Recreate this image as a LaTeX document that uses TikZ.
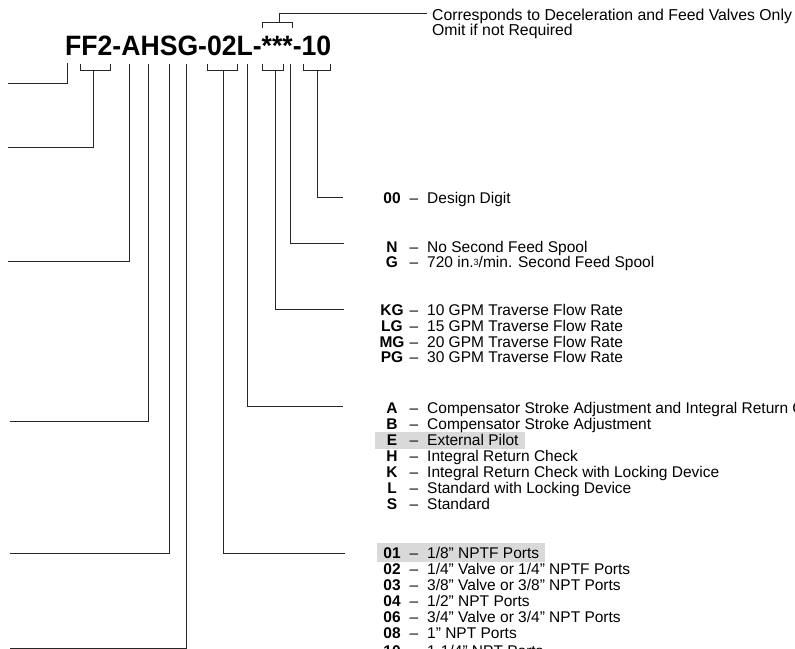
\documentclass[tikz,border=0pt]{standalone}
\usepackage{fontspec}
\setmainfont{Liberation Sans}
\newcommand\legrow[4]{%
  \node[codetxt] (c#1) at (392,#2+5.5) {#3};
  \node[dashtxt] (d#1) at (414,#2+5.5) {\textendash};
  \node[desctxt] (t#1) at (427,#2+5.5) {#4};}
\tikzset{
  lead/.style={line width=1pt, draw=black!85},
  codetxt/.style={font=\fontsize{15.5}{16}\selectfont\bfseries, anchor=base, inner sep=0},
  dashtxt/.style={font=\fontsize{15.5}{16}\selectfont, anchor=base, inner sep=0},
  desctxt/.style={font=\fontsize{15.5}{16}\selectfont, anchor=base west, inner sep=0},
  notetxt/.style={font=\fontsize{15.8}{16}\selectfont, anchor=base west, inner sep=0},
  hl/.style={fill=black!15, draw=none},
}
\begin{document}
\begin{tikzpicture}[x=1pt,y=-1pt]
\useasboundingbox (0,0) rectangle (795,648);
% highlights
\fill[hl] (375,432) rectangle (525,449);
\fill[hl] (377,543) rectangle (545,562);
% title
\node[anchor=base west, inner sep=0, font=\fontsize{28}{28}\selectfont\bfseries] (title) at (65,55)
  {\scalebox{0.95}[1]{FF2-AHSG-02L-***-10}};
% top note
\node[notetxt] (note1) at (432,20) {Corresponds to Deceleration and Feed Valves Only};
\node[notetxt] (note2) at (432,35) {Omit if not Required};
% coordinates
\coordinate (f1) at (67,63);   \coordinate (f1e) at (8,83);
\coordinate (f2) at (93,70);   \coordinate (f2e) at (8,147);
\coordinate (a1) at (129,64);  \coordinate (a1e) at (8,261);
\coordinate (h1) at (148,64);  \coordinate (h1e) at (10,421);
\coordinate (s1) at (169,64);  \coordinate (s1e) at (10,553);
\coordinate (g1) at (186,64);  \coordinate (g1e) at (10,648);
\coordinate (p1) at (223,70);  \coordinate (p1e) at (345,553);
\coordinate (l1) at (247,64);  \coordinate (l1e) at (343,406);
\coordinate (st) at (275,70);  \coordinate (ste) at (344,309);
\coordinate (sp) at (290,64);  \coordinate (spe) at (344,243);
\coordinate (dd) at (317,70);  \coordinate (dde) at (343,197);
\coordinate (tb) at (279,22);  \coordinate (tbe) at (427,13);
% brackets
\draw[lead] (80,64) -- (80,70) -- (110,70) -- (110,64);
\draw[lead] (207,64) -- (207,70) -- (237,70) -- (237,64);
\draw[lead] (262,64) -- (262,70) -- (283,70) -- (283,64);
\draw[lead] (303,64) -- (303,70) -- (330,70) -- (330,64);
\draw[lead] (262,28) -- (262,22) -- (292,22) -- (292,28);
% leaders
\draw[lead] (f1) |- (f1e);
\draw[lead] (f2) |- (f2e);
\draw[lead] (a1) |- (a1e);
\draw[lead] (h1) |- (h1e);
\draw[lead] (s1) |- (s1e);
\draw[lead] (g1) |- (g1e);
\draw[lead] (p1) |- (p1e);
\draw[lead] (l1) |- (l1e);
\draw[lead] (st) |- (ste);
\draw[lead] (sp) |- (spe);
\draw[lead] (dd) |- (dde);
\draw[lead] (tb) |- (tbe);
% legend
\legrow{00}{198}{00}{Design Digit}
\legrow{N}{247}{N}{No Second Feed Spool}
\legrow{G}{262}{G}{720 in.\raisebox{0.3ex}{\fontsize{9}{9}\selectfont 3}/min. Second Feed Spool}
\legrow{KG}{310}{KG}{10 GPM Traverse Flow Rate}
\legrow{LG}{326}{LG}{15 GPM Traverse Flow Rate}
\legrow{MG}{342}{MG}{20 GPM Traverse Flow Rate}
\legrow{PG}{357}{PG}{30 GPM Traverse Flow Rate}
\legrow{A}{408}{A}{Compensator Stroke Adjustment and Integral Return Check}
\legrow{B}{424}{B}{Compensator Stroke Adjustment}
\legrow{E}{440}{E}{External Pilot}
\legrow{H}{456}{H}{Integral Return Check}
\legrow{K}{472}{K}{Integral Return Check with Locking Device}
\legrow{L}{488}{L}{Standard with Locking Device}
\legrow{S}{504}{S}{Standard}
\legrow{01}{553}{01}{1/8" NPTF Ports}
\legrow{02}{569}{02}{1/4" Valve or 1/4" NPTF Ports}
\legrow{03}{585}{03}{3/8" Valve or 3/8" NPT Ports}
\legrow{04}{601}{04}{1/2" NPT Ports}
\legrow{06}{617}{06}{3/4" Valve or 3/4" NPT Ports}
\legrow{08}{633}{08}{1" NPT Ports}
\legrow{10}{650.5}{10}{1-1/4" NPT Ports}
\end{tikzpicture}
\end{document}
